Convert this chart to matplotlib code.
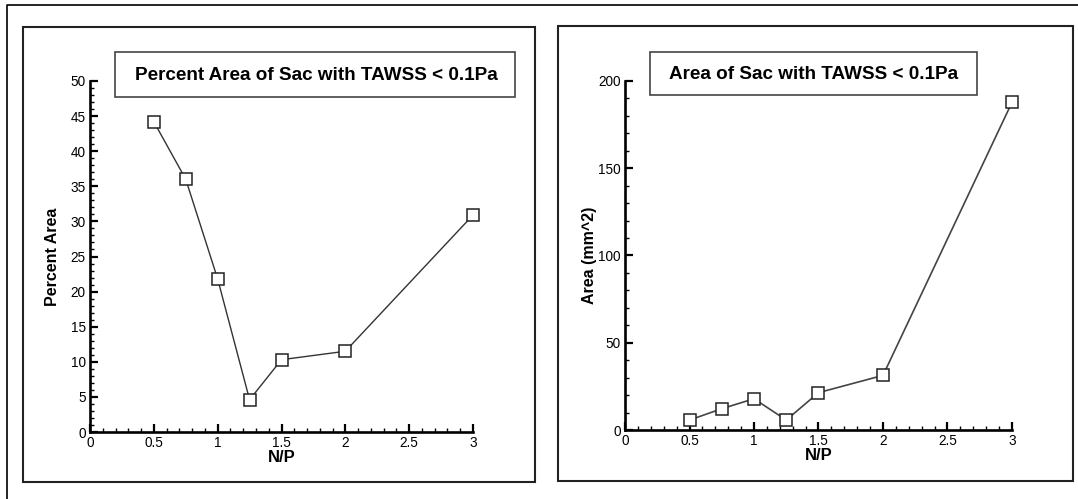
import matplotlib.pyplot as plt
from matplotlib.patches import Rectangle
from matplotlib.ticker import MultipleLocator

plt.rcParams['font.family'] = ['Liberation Sans', 'DejaVu Sans']

np_ratio = [0.5, 0.75, 1.0, 1.25, 1.5, 2.0, 3.0]
percent_area = [44.2, 36.0, 21.8, 4.6, 10.3, 11.5, 30.9]
area_mm2 = [5.7, 12.2, 17.9, 5.7, 21.4, 31.3, 187.8]

W, H = 1078, 499
fig = plt.figure(figsize=(W / 100, H / 100), dpi=100)

# background layer in pixel coords for frames and title boxes
bg = fig.add_axes([0, 0, 1, 1])
bg.set_xlim(0, W)
bg.set_ylim(H, 0)
bg.axis('off')
bg.plot([7, 7, W], [H, 5, 5], color='black', lw=1.2)
bg.add_patch(Rectangle((23, 27), 512, 455, fill=False, ec='#222222', lw=1.5))
bg.add_patch(Rectangle((558, 26), 515, 455, fill=False, ec='#222222', lw=1.5))
bg.add_patch(Rectangle((115, 52), 400, 45, fill=False, ec='#444444', lw=1.2))
bg.add_patch(Rectangle((650, 52), 327, 43, fill=False, ec='#444444', lw=1.2))
bg.text(316, 75, 'Percent Area of Sac with TAWSS < 0.1Pa', ha='center', va='center',
        fontsize=13.6, fontweight='bold')
bg.text(814, 74, 'Area of Sac with TAWSS < 0.1Pa', ha='center', va='center',
        fontsize=13.6, fontweight='bold')


def make_axes(px0, px1, py0, py1):
    return fig.add_axes([px0 / W, (H - py0) / H, (px1 - px0) / W, (py0 - py1) / H])


def style(ax, ymax, ymajor, yminor, ylabel, lab_x):
    ax.patch.set_alpha(0)
    ax.set_xlim(0, 3)
    ax.set_ylim(0, ymax)
    for s in ['top', 'right']:
        ax.spines[s].set_visible(False)
    for s in ['left', 'bottom']:
        ax.spines[s].set_linewidth(1.9)
    ax.xaxis.set_major_locator(MultipleLocator(0.5))
    ax.xaxis.set_minor_locator(MultipleLocator(0.1))
    ax.yaxis.set_major_locator(MultipleLocator(ymajor))
    ax.yaxis.set_minor_locator(MultipleLocator(yminor))
    ax.tick_params(which='major', direction='in', length=5.5, width=1.6, labelsize=9.8, pad=3)
    ax.tick_params(which='minor', direction='in', length=2.6, width=1.0)
    ax.xaxis.set_major_formatter(plt.FuncFormatter(lambda v, p: f'{v:g}'))
    ax.set_xlabel('N/P', fontsize=12, fontweight='bold', labelpad=0)
    ax.set_ylabel(ylabel, fontsize=11.5, fontweight='bold')
    ax.yaxis.set_label_coords(lab_x, 0.5)


ax1 = make_axes(90, 473, 432, 81)
ax1.plot(np_ratio, percent_area, color='#333333', lw=1.0, marker='s', ms=8.5,
         mfc='white', mec='#222222', mew=1.1, clip_on=False)
style(ax1, 50, 5, 1, 'Percent Area', -30 / 383)

ax2 = make_axes(625, 1012, 430, 81)
ax2.plot(np_ratio, area_mm2, color='#444444', lw=1.2, marker='s', ms=8.5,
         mfc='white', mec='#222222', mew=1.1, clip_on=False)
style(ax2, 200, 50, 10, 'Area (mm^2)', -28 / 387)

fig.savefig('out.png', dpi=100)
